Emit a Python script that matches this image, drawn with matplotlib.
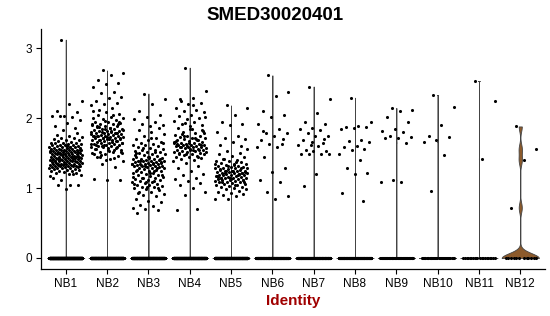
import numpy as np
import matplotlib
matplotlib.use("Agg")
import matplotlib.pyplot as plt

plt.rcParams["font.family"] = ["Liberation Sans", "DejaVu Sans"]

GENE = "SMED30020401"
CLUSTERS = ["NB1", "NB2", "NB3", "NB4", "NB5", "NB6",
            "NB7", "NB8", "NB9", "NB10", "NB11", "NB12"]

# cells with zero expression per cluster
ZERO_COUNTS = [900, 700, 600, 600, 500, 220, 200, 160, 60, 32, 20, 12]

NB1 = [3.12, 2.24, 2.20, 2.10, 2.08, 2.03, 2.03, 2.01, 2.03, 1.97, 1.93, 1.89,
       1.86, 1.83, 1.17, 1.05, 1.05, 1.04, 0.98, 1.15, 1.20, 1.12,
       1.18, 1.20, 1.21, 1.22, 1.23, 1.24, 1.25, 1.25, 1.26, 1.26, 1.27, 1.27,
       1.28, 1.28, 1.29, 1.29, 1.30, 1.30, 1.30, 1.31, 1.31, 1.31, 1.32, 1.32,
       1.32, 1.33, 1.33, 1.33, 1.34, 1.34, 1.34, 1.35, 1.35, 1.35, 1.36, 1.36,
       1.36, 1.37, 1.37, 1.37, 1.38, 1.38, 1.38, 1.39, 1.39, 1.39, 1.40, 1.40,
       1.40, 1.41, 1.41, 1.41, 1.42, 1.42, 1.42, 1.43, 1.43, 1.43, 1.44, 1.44,
       1.44, 1.45, 1.45, 1.45, 1.46, 1.46, 1.46, 1.47, 1.47, 1.47, 1.48, 1.48,
       1.48, 1.49, 1.49, 1.49, 1.50, 1.50, 1.50, 1.51, 1.51, 1.51, 1.52, 1.52,
       1.52, 1.53, 1.53, 1.53, 1.54, 1.54, 1.54, 1.55, 1.55, 1.55, 1.56, 1.56,
       1.56, 1.57, 1.57, 1.57, 1.58, 1.58, 1.59, 1.59, 1.60, 1.60, 1.61, 1.61,
       1.62, 1.62, 1.63, 1.63, 1.64, 1.64, 1.65, 1.65, 1.66, 1.67, 1.68, 1.69,
       1.70, 1.71, 1.72, 1.73, 1.74, 1.76, 1.78, 1.35, 1.40, 1.45, 1.50, 1.55,
       1.60, 1.38, 1.43, 1.48, 1.53, 1.58, 1.33, 1.46]

NB2 = [2.68, 2.65, 2.62, 2.55, 2.50, 2.48, 2.45, 2.37, 2.36, 2.30, 2.28, 2.25,
       2.22, 2.20, 2.18, 2.15, 2.12, 1.12, 1.12, 1.13, 1.30, 1.35, 1.38,
       1.42, 1.44, 1.46, 1.48, 1.50, 1.51, 1.52, 1.54, 1.55, 1.56, 1.57, 1.58,
       1.59, 1.60, 1.60, 1.61, 1.62, 1.63, 1.63, 1.64, 1.65, 1.65, 1.66, 1.67,
       1.67, 1.68, 1.69, 1.69, 1.70, 1.70, 1.71, 1.72, 1.72, 1.73, 1.73, 1.74,
       1.74, 1.75, 1.75, 1.76, 1.76, 1.77, 1.77, 1.78, 1.78, 1.79, 1.80, 1.80,
       1.81, 1.82, 1.82, 1.83, 1.84, 1.85, 1.85, 1.86, 1.87, 1.88, 1.89, 1.90,
       1.91, 1.92, 1.93, 1.94, 1.95, 1.97, 1.98, 2.00, 2.02, 2.04, 2.06, 2.08,
       2.10, 1.43, 1.47, 1.50, 1.53, 1.56, 1.58, 1.61, 1.63, 1.66, 1.68, 1.71,
       1.73, 1.75, 1.78, 1.80, 1.83, 1.86, 1.89, 1.92, 1.96, 2.00, 2.05, 1.45,
       1.52, 1.57, 1.62, 1.67, 1.72, 1.77, 1.82, 1.87, 1.94, 1.40, 1.49, 1.55,
       1.60, 1.65, 1.70, 1.74, 1.79, 1.84, 1.91]

NB3 = [2.35, 2.27, 2.20, 2.10, 2.05, 2.02, 1.98, 1.95, 1.92, 1.90, 1.88,
       0.65, 0.68, 0.70, 0.72, 0.75, 0.76, 0.80, 0.82, 0.85, 0.88, 0.90, 0.92,
       0.95, 0.95, 0.97, 0.99, 1.00, 1.01, 1.02, 1.03, 1.04, 1.05, 1.06, 1.07,
       1.08, 1.09, 1.10, 1.11, 1.12, 1.13, 1.14, 1.15, 1.16, 1.17, 1.18, 1.19,
       1.20, 1.21, 1.22, 1.23, 1.24, 1.25, 1.25, 1.26, 1.27, 1.28, 1.28, 1.29,
       1.30, 1.30, 1.31, 1.31, 1.32, 1.32, 1.33, 1.33, 1.34, 1.34, 1.35, 1.35,
       1.35, 1.36, 1.36, 1.37, 1.37, 1.38, 1.38, 1.39, 1.39, 1.40, 1.40, 1.41,
       1.42, 1.42, 1.43, 1.44, 1.45, 1.46, 1.47, 1.48, 1.49, 1.50, 1.51, 1.52,
       1.53, 1.54, 1.55, 1.56, 1.57, 1.58, 1.60, 1.61, 1.62, 1.63, 1.65, 1.66,
       1.68, 1.70, 1.72, 1.74, 1.77, 1.80, 1.83, 1.86, 1.02, 1.06, 1.10, 1.14,
       1.18, 1.22, 1.26, 1.29, 1.32, 1.34, 1.36, 1.38, 1.41, 1.44, 1.47, 1.52,
       1.57, 1.64, 1.71, 0.93, 1.00, 1.08, 1.16, 1.24, 1.33, 1.37, 1.43, 1.50]

NB4 = [2.72, 2.39, 2.29, 2.25, 2.22, 2.20, 2.15, 2.12, 2.10, 2.08, 2.05, 2.03,
       2.00, 1.98, 1.96, 1.94, 1.92, 1.90, 1.88, 0.69, 0.70, 0.90, 0.95, 1.00,
       1.05, 1.07, 1.10, 1.13, 1.15, 1.18, 1.20, 1.24, 1.28, 1.32, 1.36, 1.38,
       1.40, 1.42, 1.43, 1.44, 1.45, 1.46, 1.47, 1.48, 1.49, 1.50, 1.50, 1.51,
       1.52, 1.53, 1.53, 1.54, 1.55, 1.55, 1.56, 1.57, 1.57, 1.58, 1.58, 1.59,
       1.59, 1.60, 1.60, 1.61, 1.61, 1.62, 1.62, 1.63, 1.63, 1.64, 1.65, 1.65,
       1.66, 1.67, 1.68, 1.69, 1.70, 1.71, 1.72, 1.73, 1.74, 1.75, 1.76, 1.78,
       1.80, 1.82, 1.84, 1.86, 1.45, 1.49, 1.52, 1.55, 1.58, 1.61, 1.64, 1.67,
       1.70, 1.74, 1.79, 1.85, 1.48, 1.54, 1.60, 1.66, 1.72, 1.77, 1.83, 1.56,
       1.63, 1.69, 1.93, 2.01, 2.18, 2.27]

NB5 = [2.18, 2.15, 2.05, 1.95, 1.92, 1.90, 1.80, 1.75, 1.72, 1.70, 1.66,
       1.62, 1.60, 0.85, 0.85, 0.88, 0.90, 0.92, 0.93, 0.95, 0.96, 0.98, 0.99,
       1.00, 1.01, 1.02, 1.03, 1.04, 1.05, 1.06, 1.06, 1.07, 1.08, 1.08, 1.09,
       1.10, 1.10, 1.11, 1.12, 1.12, 1.13, 1.13, 1.14, 1.14, 1.15, 1.15, 1.16,
       1.16, 1.17, 1.17, 1.18, 1.18, 1.19, 1.19, 1.20, 1.20, 1.21, 1.21, 1.22,
       1.22, 1.23, 1.23, 1.24, 1.24, 1.25, 1.25, 1.26, 1.26, 1.27, 1.28, 1.28,
       1.29, 1.30, 1.30, 1.31, 1.32, 1.33, 1.34, 1.35, 1.36, 1.37, 1.38, 1.39,
       1.40, 1.42, 1.44, 1.46, 1.48, 1.50, 1.53, 1.56, 1.04, 1.08, 1.11, 1.14,
       1.17, 1.19, 1.21, 1.23, 1.25, 1.27, 1.29, 1.31, 1.34, 1.37, 1.41, 1.09,
       1.13, 1.16, 1.20, 1.24, 1.28, 1.33, 1.15, 1.22]

NB6 = [2.61, 2.37, 2.32, 2.10, 2.05, 2.02, 1.91, 1.85, 1.79, 1.78, 1.75,
       1.68, 1.63, 1.63, 1.58, 1.58, 1.45, 1.29, 1.23, 1.11, 1.08, 0.95, 0.88,
       0.84, 1.82, 1.70]

NB7 = [2.45, 2.27, 2.07, 1.95, 1.92, 1.86, 1.85, 1.83, 1.78, 1.75, 1.75,
       1.68, 1.64, 1.62, 1.62, 1.60, 1.54, 1.53, 1.53, 1.48, 1.48, 1.48, 1.48,
       1.20, 1.03, 1.70, 1.66]

NB8 = [2.29, 1.95, 1.88, 1.87, 1.87, 1.86, 1.84, 1.69, 1.67, 1.66, 1.60,
       1.58, 1.56, 1.55, 1.48, 1.40, 1.29, 1.21, 1.20, 0.93, 0.81]

NB9 = [2.14, 2.12, 2.10, 2.02, 1.95, 1.85, 1.82, 1.80, 1.75, 1.73, 1.72,
       1.71, 1.65, 1.11, 1.09, 1.08]

NB10 = [2.33, 2.16, 1.90, 1.74, 1.73, 1.68, 1.66, 1.47, 0.96]

NB11 = [2.53, 2.24, 1.42]

NB12 = [1.88, 1.56, 1.40, 0.72]

NONZERO = [NB1, NB2, NB3, NB4, NB5, NB6, NB7, NB8, NB9, NB10, NB11, NB12]

COLORS = ["#F8766D", "#DE8C00", "#B79F00", "#7CAE00", "#00BA38", "#00C08B",
          "#00BFC4", "#00B4F0", "#619CFF", "#C77CFF", "#F564E3", "#8C5A2B"]


def bw_nrd0(x):
    # same rule of thumb as R's bw.nrd0
    sd = np.std(x, ddof=1)
    q1, q3 = np.percentile(x, [25, 75])
    lo = min(sd, (q3 - q1) / 1.34)
    if lo == 0:
        lo = 1e-3  # mostly zeros: spike
    return 0.9 * lo * len(x) ** -0.2


def spread(n, phase=0.0):
    # evenly spread horizontal offsets in [-0.4, 0.4]
    k = np.arange(n)
    return ((k * 0.6180339887 + phase) % 1.0 - 0.5) * 0.8


fig = plt.figure(figsize=(5.5, 3.16), dpi=100)
ax = fig.add_axes([0.0745, 0.149, 0.9165, 0.76])

for i, (vals, nz) in enumerate(zip(NONZERO, ZERO_COUNTS)):
    data = np.concatenate([np.zeros(nz), np.array(vals)])
    bw = bw_nrd0(data)
    grid = np.linspace(data.min(), data.max(), 512)
    dens = np.exp(-0.5 * ((grid[:, None] - data[None, :]) / bw) ** 2).sum(axis=1)
    w = 0.45 * dens / dens.max()
    ax.fill_betweenx(grid, i - w, i + w, facecolor=COLORS[i],
                     edgecolor="#444444", linewidth=0.6, zorder=1)

    ax.scatter(i + spread(nz, 0.13), np.zeros(nz), s=5, c="black",
               linewidths=0, zorder=3)
    ax.scatter(i + spread(len(vals), 0.37), vals, s=5, c="black",
               linewidths=0, zorder=3)

ymax = max(max(v) for v in NONZERO)
ax.set_ylim(-0.05 * ymax, ymax * 1.05)
ax.set_xlim(-0.6, len(CLUSTERS) - 0.4)
ax.set_xticks(range(len(CLUSTERS)))
ax.set_xticklabels(CLUSTERS)
ax.set_yticks([0, 1, 2, 3])

ax.spines["top"].set_visible(False)
ax.spines["right"].set_visible(False)
for s in ["left", "bottom"]:
    ax.spines[s].set_linewidth(0.9)
ax.tick_params(axis="both", labelsize=8.5, length=3.5, width=0.8,
               colors="black", pad=3)

# title is centred on the whole figure, not on the panel
fig.text(0.5, 0.952, GENE, fontsize=13.5, fontweight="bold",
         ha="center", va="center")
ax.set_xlabel("Identity", fontsize=11, fontweight="bold", color="#A00000",
              labelpad=3)
ax.set_ylabel("")

fig.savefig("out.png", dpi=100)
